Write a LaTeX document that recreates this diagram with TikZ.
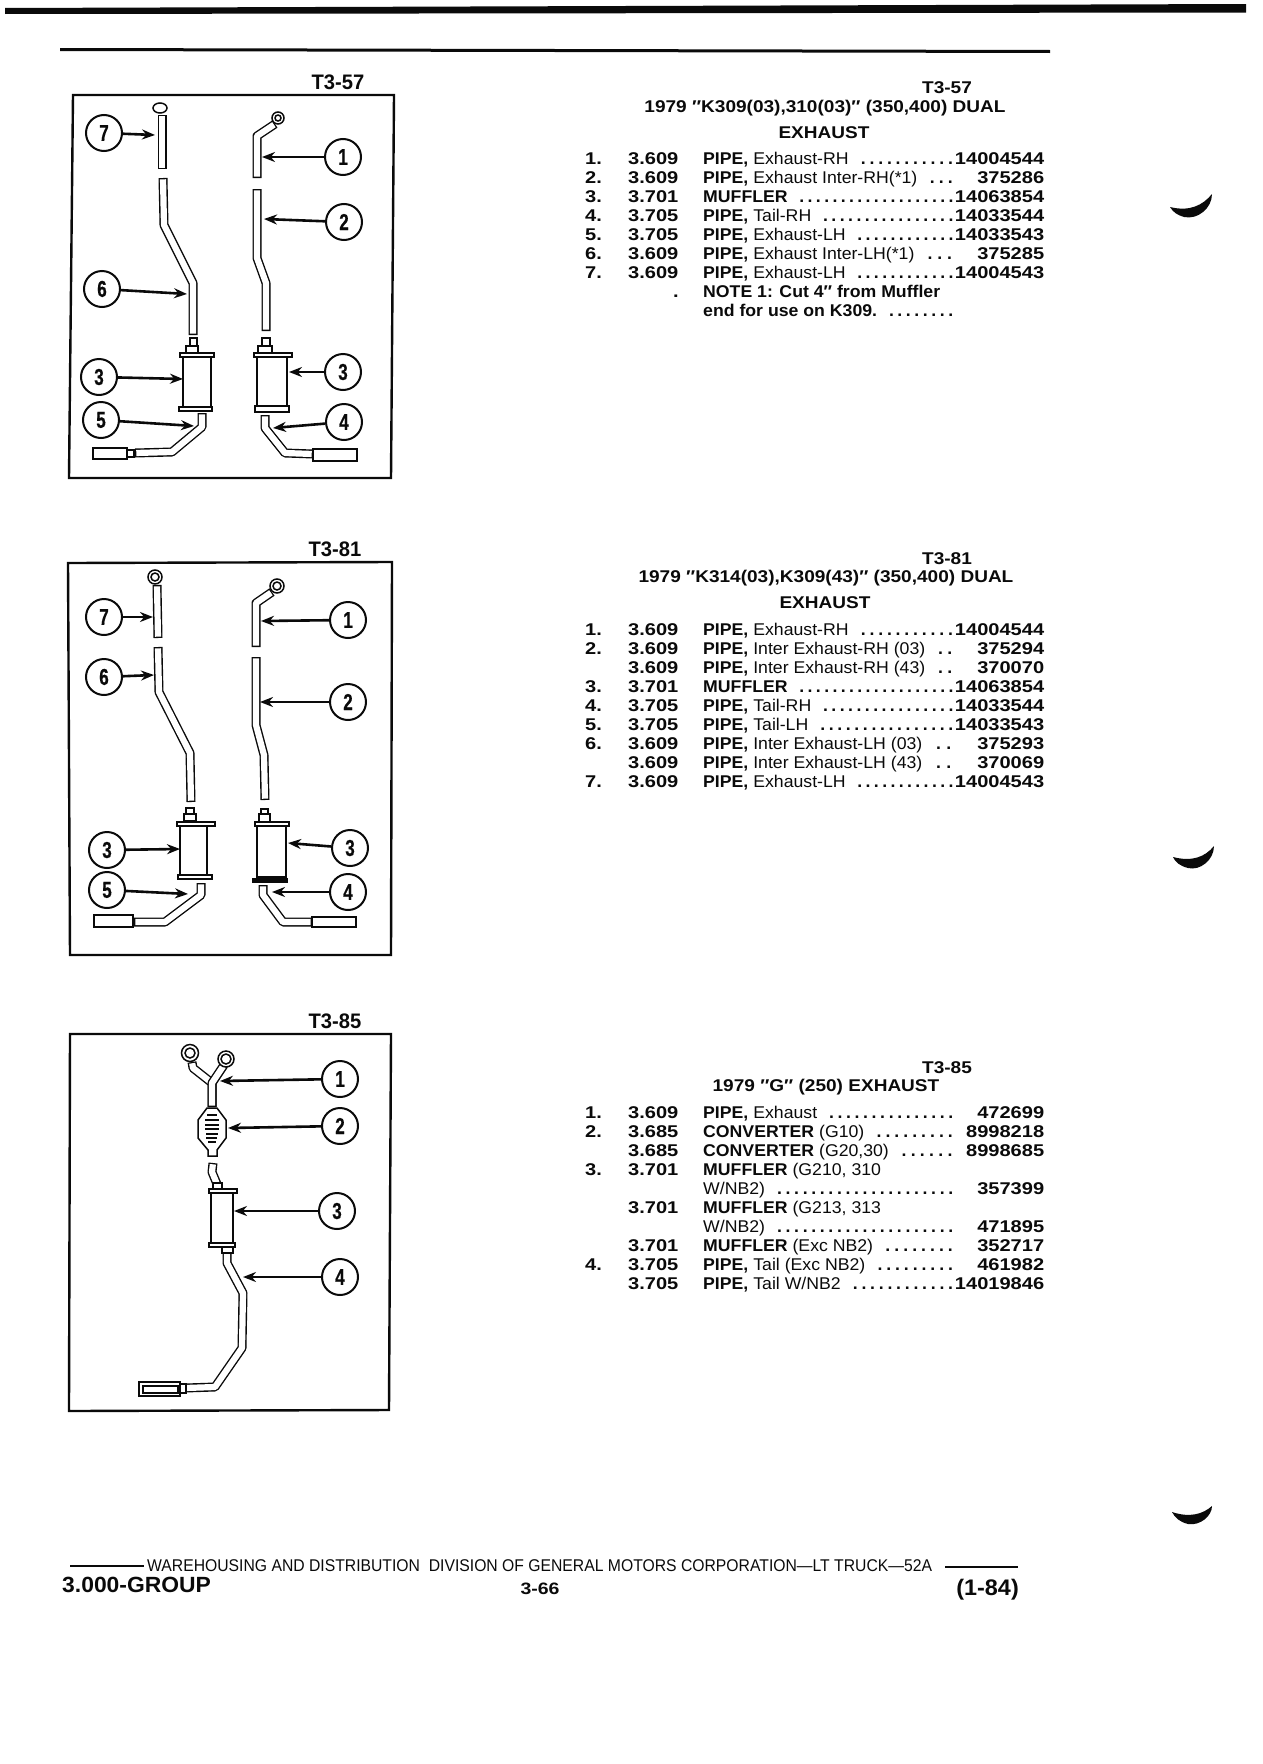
\documentclass[tikz,border=0pt]{standalone}
\usepackage{fontspec}
\usepackage{array}
\setmainfont[FakeStretch=1.04]{Liberation Sans}
\newfontfamily\numfont[FakeStretch=1.18]{Liberation Sans}
\newfontfamily\headfont[FakeStretch=1.12]{Liberation Sans}
\newfontfamily\narrowfont[FakeStretch=0.74,FakeBold=0.6]{Liberation Sans}
\newfontfamily\plainfont[FakeStretch=0.96]{Liberation Sans}
\newfontfamily\footfont[FakeStretch=0.925]{Liberation Sans}
\usetikzlibrary{arrows.meta}
\definecolor{ink}{RGB}{10,10,10}
\newcommand{\dotrun}{\xleaders\hbox to 8.2pt{\hss\bfseries.\hss}\hfill}
\newcommand{\partno}[2]{#1\hspace{10pt}\dotrun\makebox[89pt][r]{\numfont\bfseries #2}}

\begin{document}
\begin{tikzpicture}[->,x=1pt,y=-1pt,>={Stealth[length=13pt,width=10pt]}]
    \tikzstyle{callout}=[draw=ink, circle, line width=2pt, minimum size=36pt, inner sep=0pt, fill=white, text=ink, font=\fontsize{23pt}{23pt}\narrowfont\bfseries]
    \tikzstyle{lead}=[draw=ink, line width=2.6pt]
    \tikzstyle{frame}=[-, draw=ink, line width=2.4pt]
    \tikzstyle{pipe}=[-, draw=ink, line width=9pt, line join=round, postaction={draw=white, line width=6.2pt, shorten >=1.3pt, shorten <=1.3pt}]
    \tikzstyle{part}=[-, draw=ink, fill=white, line width=1.5pt]
    \tikzstyle{heavy}=[-, draw=ink, fill=ink, line width=1pt]
    \tikzstyle{tag}=[text=ink, inner sep=0pt, font=\fontsize{21pt}{21pt}\plainfont\bfseries]
    \tikzstyle{head}=[text=ink, inner sep=0pt, font=\fontsize{17pt}{19pt}\headfont\bfseries]
    \tikzstyle{parts}=[anchor=north west, text=ink, inner sep=0pt, font=\fontsize{17pt}{19.07pt}\selectfont]
    \tikzstyle{foot}=[text=ink, inner sep=0pt]
    \useasboundingbox (0,0) rectangle (1262,1764);

    % page rules and punch marks
    \fill[ink] (5,8) -- (1246,4) -- (1246,12.5) -- (5,14) -- cycle;
    \fill[ink] (60,48) -- (1050,50) -- (1050,53) -- (60,51) -- cycle;
    \fill[ink] (1170,207) .. controls (1190,212) and (1203,205) .. (1212,194) .. controls (1212,208) and (1198,220) .. (1184,217) .. controls (1177,215) and (1173,212) .. (1170,207) -- cycle;
    \fill[ink] (1173,857) .. controls (1192,862) and (1205,857) .. (1214,846) .. controls (1214,860) and (1200,871) .. (1188,868) .. controls (1180,866) and (1175,862) .. (1173,857) -- cycle;
    \fill[ink] (1172,1512) .. controls (1190,1518) and (1203,1514) .. (1212,1506) .. controls (1212,1516) and (1200,1526) .. (1188,1524) .. controls (1180,1522) and (1175,1518) .. (1172,1512) -- cycle;

    % T3-57 panel
    \draw[frame] (73,95) -- (394,95) -- (391,478) -- (69,478) -- cycle;
    \node[tag] (tag57) at (338,82) {T3-57};
    \draw[pipe] (162,169) -- (162,115);
    \draw[part] (160,108) ellipse (7pt and 5pt);
    \draw[pipe] (257,178) -- (257,136) -- (275,124);
    \draw[part] (278,118) circle (6pt);
    \draw[part] (278,118) circle (3pt);
    \draw[pipe] (257,189) -- (257,258) -- (266,283) -- (266,331);
    \draw[pipe] (163,178) -- (164,225) -- (193,283) -- (193,335);
    \draw[part] (190,338) rectangle (197,352);
    \draw[part] (186,346) rectangle (198,353);
    \draw[part] (183,356) rectangle (211,407);
    \draw[part] (180,353) rectangle (214,357);
    \draw[part] (179,407) rectangle (212,411);
    \draw[part] (262,338) rectangle (270,352);
    \draw[part] (258,346) rectangle (272,353);
    \draw[part] (257,357) rectangle (287,406);
    \draw[part] (254,353) rectangle (292,357);
    \draw[part] (255,406) rectangle (289,412);
    \draw[pipe] (202,413) -- (202,427) -- (172,452) -- (135,453);
    \draw[part] (93,448) rectangle (127,459);
    \draw[part] (127,450) rectangle (134,457);
    \draw[pipe] (265,415) -- (265,428) -- (285,453) -- (313,454);
    \draw[part] (313,449) rectangle (357,461);

    \node[callout] (a7) at (104,133) {7};
    \node[callout] (a1) at (343,157) {1};
    \node[callout] (a2) at (344,222) {2};
    \node[callout] (a6) at (102,289) {6};
    \node[callout] (a3) at (99,377)  {3};
    \node[callout] (a8) at (343,372) {3};
    \node[callout] (a5) at (101,420) {5};
    \node[callout] (a4) at (344,422) {4};
    \coordinate (p7) at (155,135);
    \coordinate (p1) at (262,157);
    \coordinate (p2) at (264,219);
    \coordinate (p6) at (187,294);
    \coordinate (p3) at (183,379);
    \coordinate (p8) at (289,372);
    \coordinate (p5) at (194,426);
    \coordinate (p4) at (273,428);
    \path
     (a7) edge[lead] (p7)
     (a1) edge[lead] (p1)
     (a2) edge[lead] (p2)
     (a6) edge[lead] (p6)
     (a3) edge[lead] (p3)
     (a8) edge[lead] (p8)
     (a5) edge[lead] (p5)
     (a4) edge[lead] (p4)
     ;

    % T3-81 panel
    \draw[frame] (68,563) -- (392,562) -- (391,955) -- (70,955) -- cycle;
    \node[tag] (tag81) at (335,549) {T3-81};
    \draw[pipe] (158,638) -- (157,585);
    \draw[part] (155,577) circle (7pt);
    \draw[part] (155,577) circle (4pt);
    \draw[pipe] (256,647) -- (256,603) -- (272,592);
    \draw[part] (277,586) circle (7pt);
    \draw[part] (277,586) circle (4pt);
    \draw[pipe] (256,657) -- (256,725) -- (264,755) -- (265,800);
    \draw[pipe] (158,647) -- (159,692) -- (190,753) -- (191,802);
    \draw[part] (186,808) rectangle (194,816);
    \draw[part] (184,814) rectangle (196,821);
    \draw[part] (180,826) rectangle (207,875);
    \draw[part] (177,822) rectangle (215,826);
    \draw[part] (178,875) rectangle (212,879);
    \draw[part] (261,809) rectangle (268,816);
    \draw[part] (259,814) rectangle (270,822);
    \draw[part] (257,826) rectangle (286,877);
    \draw[part] (255,822) rectangle (289,826);
    \draw[heavy] (252,878) rectangle (287,882);
    \draw[pipe] (201,883) -- (201,895) -- (165,922) -- (134,922);
    \draw[part] (94,915) rectangle (133,927);
    \draw[pipe] (263,885) -- (263,895) -- (283,922) -- (312,922);
    \draw[part] (312,917) rectangle (356,927);

    \node[callout] (b7) at (104,617) {7};
    \node[callout] (b6) at (104,677) {6};
    \node[callout] (b1) at (348,620) {1};
    \node[callout] (b2) at (348,702) {2};
    \node[callout] (b3) at (107,850) {3};
    \node[callout] (b8) at (350,848) {3};
    \node[callout] (b5) at (107,890) {5};
    \node[callout] (b4) at (348,892) {4};
    \coordinate (q7) at (153,617);
    \coordinate (q6) at (154,675);
    \coordinate (q1) at (261,621);
    \coordinate (q2) at (260,702);
    \coordinate (q3) at (180,849);
    \coordinate (q8) at (288,843);
    \coordinate (q5) at (188,894);
    \coordinate (q4) at (272,892);
    \path
     (b7) edge[lead] (q7)
     (b6) edge[lead] (q6)
     (b1) edge[lead] (q1)
     (b2) edge[lead] (q2)
     (b3) edge[lead] (q3)
     (b8) edge[lead] (q8)
     (b5) edge[lead] (q5)
     (b4) edge[lead] (q4)
     ;

    % T3-85 panel
    \draw[frame] (70,1034) -- (391,1034) -- (389,1410) -- (69,1411) -- cycle;
    \node[tag] (tag85) at (335,1021) {T3-85};
    \draw[pipe] (192,1062) -- (193,1068) -- (212,1083) -- (212,1107);
    \draw[pipe] (224,1065) -- (212,1083) -- (212,1107);
    \draw[part] (190,1053) circle (8.5pt);
    \draw[part] (190,1053) circle (5pt);
    \draw[part] (226,1059) circle (8pt);
    \draw[part] (226,1059) circle (5pt);
    \draw[part] (207,1108) -- (217,1108) -- (226,1120) -- (226,1138) -- (217,1150) -- (217,1156) -- (208,1156) -- (208,1150) -- (198,1138) -- (198,1120) -- cycle;
    \draw[-, ink, line width=1.5pt] (207,1115) -- (217,1115) (205,1120) -- (219,1120) (205,1125) -- (219,1125) (205,1129) -- (219,1129) (206,1134) -- (218,1134) (206,1138) -- (217,1138) (208,1142) -- (216,1142);
    \draw[pipe] (213,1163) -- (212,1172) -- (217,1184);
    \draw[part] (213,1183) rectangle (222,1189);
    \draw[part] (211,1193) rectangle (233,1243);
    \draw[part] (209,1189) rectangle (237,1193);
    \draw[part] (209,1243) rectangle (235,1247);
    \draw[pipe] (227,1252) -- (227,1263) -- (243,1293) -- (242,1348) -- (215,1387) -- (185,1388);
    \draw[part] (222,1247) rectangle (233,1253);
    \draw[part] (180,1384) rectangle (186,1393);
    \draw[part] (139,1382) rectangle (180,1396);
    \draw[part] (143,1386) rectangle (178,1393);

    \node[callout] (c1) at (340,1079) {1};
    \node[callout] (c2) at (340,1126) {2};
    \node[callout] (c3) at (337,1211) {3};
    \node[callout] (c4) at (340,1277) {4};
    \coordinate (r1) at (220,1081);
    \coordinate (r2) at (228,1128);
    \coordinate (r3) at (234,1211);
    \coordinate (r4) at (243,1277);
    \path
     (c1) edge[lead] (r1)
     (c2) edge[lead] (r2)
     (c3) edge[lead] (r3)
     (c4) edge[lead] (r4)
     ;

    % part lists
    \node[head] (h57) at (947,88)  {T3-57};
    \node[head] (t57) at (825,108) {1979 ″K309(03),310(03)″ (350,400) DUAL};
    \node[head] (e57) at (824,133) {EXHAUST};
    \node[parts] (list57) at (585,150.7) {\tabcolsep=0pt\begin{tabular}{@{}>{\numfont\bfseries}p{43pt}>{\numfont\bfseries}p{75pt}p{341pt}@{}}
      1. & 3.609 & \partno{\textbf{PIPE,} Exhaust-RH}{14004544}\\
      2. & 3.609 & \partno{\textbf{PIPE,} Exhaust Inter-RH(*1)}{375286}\\
      3. & 3.701 & \partno{\textbf{MUFFLER}}{14063854}\\
      4. & 3.705 & \partno{\textbf{PIPE,} Tail-RH}{14033544}\\
      5. & 3.705 & \partno{\textbf{PIPE,} Exhaust-LH}{14033543}\\
      6. & 3.609 & \partno{\textbf{PIPE,} Exhaust Inter-LH(*1)}{375285}\\
      7. & 3.609 & \partno{\textbf{PIPE,} Exhaust-LH}{14004543}\\
       & \hspace{45pt}. & \textbf{NOTE 1: Cut 4″ from Muffler}\\
       & & \partno{\textbf{end for use on K309.}}{}\\
    \end{tabular}};

    \node[head] (h81) at (947,559) {T3-81};
    \node[head] (t81) at (826,578) {1979 ″K314(03),K309(43)″ (350,400) DUAL};
    \node[head] (e81) at (825,603) {EXHAUST};
    \node[parts] (list81) at (585,621.7) {\tabcolsep=0pt\begin{tabular}{@{}>{\numfont\bfseries}p{43pt}>{\numfont\bfseries}p{75pt}p{341pt}@{}}
      1. & 3.609 & \partno{\textbf{PIPE,} Exhaust-RH}{14004544}\\
      2. & 3.609 & \partno{\textbf{PIPE,} Inter Exhaust-RH (03)}{375294}\\
       & 3.609 & \partno{\textbf{PIPE,} Inter Exhaust-RH (43)}{370070}\\
      3. & 3.701 & \partno{\textbf{MUFFLER}}{14063854}\\
      4. & 3.705 & \partno{\textbf{PIPE,} Tail-RH}{14033544}\\
      5. & 3.705 & \partno{\textbf{PIPE,} Tail-LH}{14033543}\\
      6. & 3.609 & \partno{\textbf{PIPE,} Inter Exhaust-LH (03)}{375293}\\
       & 3.609 & \partno{\textbf{PIPE,} Inter Exhaust-LH (43)}{370069}\\
      7. & 3.609 & \partno{\textbf{PIPE,} Exhaust-LH}{14004543}\\
    \end{tabular}};

    \node[head] (h85) at (947,1068) {T3-85};
    \node[head] (t85) at (826,1087) {1979 ″G″ (250) EXHAUST};
    \node[parts] (list85) at (585,1104.7) {\tabcolsep=0pt\begin{tabular}{@{}>{\numfont\bfseries}p{43pt}>{\numfont\bfseries}p{75pt}p{341pt}@{}}
      1. & 3.609 & \partno{\textbf{PIPE,} Exhaust}{472699}\\
      2. & 3.685 & \partno{\textbf{CONVERTER} (G10)}{8998218}\\
       & 3.685 & \partno{\textbf{CONVERTER} (G20,30)}{8998685}\\
      3. & 3.701 & \textbf{MUFFLER} (G210, 310\\
       & & \partno{W/NB2)}{357399}\\
       & 3.701 & \textbf{MUFFLER} (G213, 313\\
       & & \partno{W/NB2)}{471895}\\
       & 3.701 & \partno{\textbf{MUFFLER} (Exc NB2)}{352717}\\
      4. & 3.705 & \partno{\textbf{PIPE,} Tail (Exc NB2)}{461982}\\
       & 3.705 & \partno{\textbf{PIPE,} Tail W/NB2}{14019846}\\
    \end{tabular}};

    % footer
    \draw[-, ink, line width=1.5pt] (70,1566) -- (144,1566);
    \draw[-, ink, line width=1.5pt] (945,1567) -- (1018,1567);
    \node[foot, anchor=west, font=\fontsize{17pt}{17pt}\footfont] (f1) at (147,1566) {WAREHOUSING AND DISTRIBUTION\ \ DIVISION OF GENERAL MOTORS CORPORATION—LT TRUCK—52A};
    \node[foot, anchor=west, font=\fontsize{22pt}{22pt}\selectfont\bfseries] (f2) at (62,1585) {3.000-GROUP};
    \node[foot, font=\fontsize{16.5pt}{16.5pt}\numfont\bfseries] (f3) at (540,1589) {3-66};
    \node[foot, anchor=east, font=\fontsize{22.5pt}{22.5pt}\selectfont\bfseries] (f4) at (1019,1590) {(1-84)};
  \end{tikzpicture}
\end{document}
